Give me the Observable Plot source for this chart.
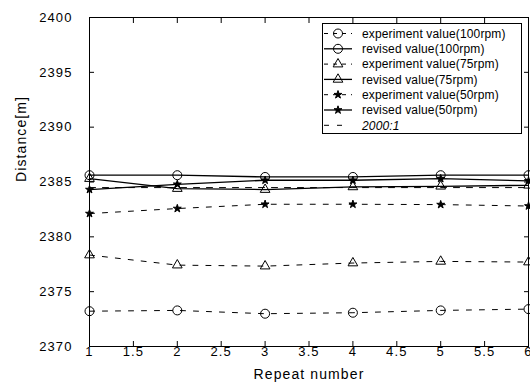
<!DOCTYPE html>
<html><head><meta charset="utf-8">
<script src="https://cdn.jsdelivr.net/npm/d3@7"></script>
<script src="https://cdn.jsdelivr.net/npm/@observablehq/plot@0.6"></script>
<style>
body{margin:0;background:#fff;}
#wrap{position:relative;width:530px;height:385px;font-family:"Liberation Sans",Arial,sans-serif;}
#wrap svg.mainchart text{letter-spacing:1.1px;}
#legend{position:absolute;left:0;top:0;}
#legend text{letter-spacing:0.15px;}
</style></head><body><div id="wrap"></div>
<script>
// ---- data ----
const repeats = [1, 2, 3, 4, 5, 6];
const exp100 = [2373.22, 2373.29, 2372.99, 2373.08, 2373.29, 2373.41];
const rev100 = [2385.62, 2385.62, 2385.46, 2385.46, 2385.62, 2385.62];
const exp75  = [2378.34, 2377.42, 2377.33, 2377.61, 2377.76, 2377.70];
const rev75  = [2385.31, 2384.40, 2384.31, 2384.55, 2384.61, 2384.70];
const exp50  = [2382.12, 2382.58, 2382.97, 2382.97, 2382.94, 2382.81];
const rev50  = [2384.31, 2384.79, 2385.16, 2385.16, 2385.31, 2385.10];
const ratio2000 = [2384.49, 2384.49, 2384.49, 2384.49, 2384.49, 2384.49];
const seriesNames = ["experiment value(100rpm)", "revised value(100rpm)", "experiment value(75rpm)",
  "revised value(75rpm)", "experiment value(50rpm)", "revised value(50rpm)", "2000:1"];
const xTicks = [1, 1.5, 2, 2.5, 3, 3.5, 4, 4.5, 5, 5.5, 6];
const yTicks = [2370, 2375, 2380, 2385, 2390, 2395, 2400];
const xLabel = "Repeat number";
const yLabel = "Distance[m]";

// ---- styles ----
const series = [
  {name: seriesNames[0], values: exp100, symbol: "circle", r: 4.5, dash: "5,8", fill: "none", width: 1},
  {name: seriesNames[1], values: rev100, symbol: "circle", r: 4.5, dash: null, fill: "none", width: 1.3},
  {name: seriesNames[2], values: exp75, symbol: "triangle", r: 3.6, dash: "5,8", fill: "none", width: 1},
  {name: seriesNames[3], values: rev75, symbol: "triangle", r: 3.6, dash: null, fill: "none", width: 1.3},
  {name: seriesNames[4], values: exp50, symbol: "star", r: 2.5, dash: "5,8", fill: "black", width: 1},
  {name: seriesNames[5], values: rev50, symbol: "star", r: 2.5, dash: null, fill: "black", width: 1.3},
  {name: seriesNames[6], values: ratio2000, symbol: null, r: 0, dash: "6,7", fill: "none", width: 1}
];

const marks = [];
for (const s of series) {
  const rows = repeats.map((x, i) => ({x, y: s.values[i]}));
  marks.push(Plot.line(rows, {x: "x", y: "y", stroke: "black", strokeWidth: s.width, strokeDasharray: s.dash}));
  if (s.symbol) marks.push(Plot.dot(rows, {x: "x", y: "y", symbol: s.symbol, r: s.r, stroke: "black", strokeWidth: 1, fill: s.fill}));
}

const chart = Plot.plot({
  width: 530, height: 385,
  marginTop: 17, marginRight: 2, marginBottom: 39, marginLeft: 89,
  style: {fontFamily: '"Liberation Sans", Arial, sans-serif', fontSize: "13px", color: "black", background: "white"},
  x: {domain: [1, 6]},
  y: {domain: [2370, 2400]},
  marks: [
    ...marks,
    Plot.frame({stroke: "black"}),
    Plot.axisX({ticks: xTicks, tickSize: -5, tickPadding: 5, label: null, tickFormat: d => String(d)}),
    Plot.axisX({anchor: "top", ticks: xTicks, tickSize: -5, label: null, tickFormat: () => ""}),
    Plot.axisY({ticks: yTicks, tickSize: -5, tickPadding: 22, label: null, tickFormat: d => String(d)}),
    Plot.axisY({anchor: "right", ticks: yTicks, tickSize: -5, label: null, tickFormat: () => ""}),
    Plot.text([xLabel], {frameAnchor: "bottom", dy: 28, text: d => d, fontSize: 14, lineAnchor: "middle"}),
    Plot.text([yLabel], {frameAnchor: "left", dx: -68, rotate: -90, text: d => d, fontSize: 14, lineAnchor: "middle"})
  ]
});
chart.classList.add("mainchart");
const wrap = document.getElementById("wrap");
wrap.appendChild(chart);

// ---- legend (inside the plot area, top right) ----
const lg = d3.select(wrap).append("svg").attr("id", "legend").attr("width", 530).attr("height", 385);
lg.append("rect").attr("x", 322.5).attr("y", 23.5).attr("width", 199).attr("height", 110)
  .attr("fill", "white").attr("stroke", "black").attr("stroke-width", 1);
series.forEach((s, i) => {
  const cy = 33.5 + i * 15.3;
  const g = lg.append("g");
  if (s.symbol) {
    g.append("line").attr("x1", 324).attr("x2", 352).attr("y1", cy).attr("y2", cy)
      .attr("stroke", "black").attr("stroke-width", s.dash ? 1 : 1.3).attr("stroke-dasharray", s.dash ? "4,5" : null);
    const type = s.symbol === "circle" ? d3.symbolCircle : s.symbol === "triangle" ? d3.symbolTriangle : d3.symbolStar;
    g.append("path").attr("d", d3.symbol(type, Math.PI * s.r * s.r)())
      .attr("transform", `translate(338,${cy})`).attr("stroke", "black").attr("fill", s.fill);
  } else {
    g.append("line").attr("x1", 324).attr("x2", 346).attr("y1", cy).attr("y2", cy)
      .attr("stroke", "black").attr("stroke-width", 1).attr("stroke-dasharray", "5,8");
  }
  g.append("text").attr("x", 362).attr("y", cy).attr("dy", "0.35em")
    .attr("font-size", 12).attr("font-style", s.symbol ? null : "italic")
    .attr("font-family", '"Liberation Sans", Arial, sans-serif').text(s.name);
});
</script></body></html>
